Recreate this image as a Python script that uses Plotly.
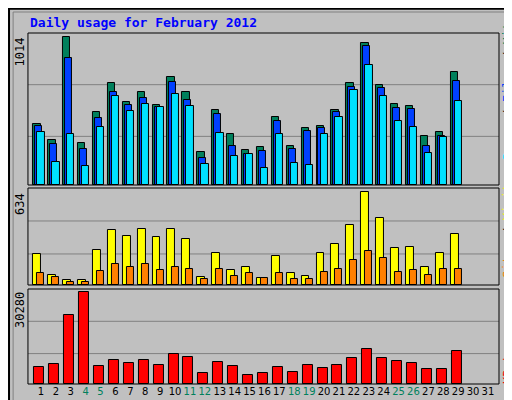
import plotly.graph_objects as go

days = list(range(1, 32))
hits = [415, 305, 1013, 291, 497, 697, 566, 635, 545, 738, 635, 229, 511, 346, 243,
        257, 463, 264, 387, 401, 511, 697, 972, 683, 552, 539, 339, 360, 772]
files = [401, 284, 869, 250, 456, 635, 545, 594, 532, 704, 580, 188, 484, 270, 215,
         236, 435, 250, 367, 387, 497, 669, 951, 662, 525, 518, 264, 339, 711]
pages = [360, 160, 346, 133, 394, 607, 504, 552, 532, 621, 539, 147, 353, 202, 215,
         119, 346, 154, 140, 346, 463, 649, 821, 607, 435, 394, 222, 332, 573]
sites = [208, 71, 37, 37, 236, 373, 332, 380, 325, 380, 311, 57, 215, 105, 126,
         50, 195, 85, 64, 215, 277, 407, 634, 455, 249, 256, 126, 215, 346]
visits = [85, 57, 23, 23, 98, 140, 126, 140, 105, 126, 112, 43, 112, 64, 85,
          50, 85, 43, 43, 92, 112, 167, 229, 181, 92, 105, 71, 112, 112]
kbytes = [5746, 6741, 22653, 30280, 6078, 8067, 7072, 8067, 6409, 10056, 9061, 3757, 7404, 6078, 3094,
          3757, 5746, 4089, 6409, 5415, 6409, 8730, 11713, 8730, 7735, 7072, 5083, 5083, 11050]
weekend = {4, 5, 11, 12, 18, 19, 25, 26}

BG = "#C0C0C0"
GREEN = "#00805C"
FONT = "DejaVu Sans Mono"
x = days[:len(hits)]

fig = go.Figure()


def bar(y, color, off, w, ax):
    fig.add_trace(go.Bar(x=x, y=y, marker=dict(color=color, line=dict(color="black", width=1)),
                         offset=off, width=w, xaxis="x", yaxis=ax, showlegend=False))


bar(hits, GREEN, -0.51, 0.49, "y")
bar(files, "#0040FF", -0.38, 0.47, "y")
bar(pages, "#00E0FF", -0.24, 0.49, "y")
bar(sites, "#FFFF00", -0.51, 0.53, "y2")
bar(visits, "#FF8000", -0.24, 0.47, "y2")
bar(kbytes, "#FF0000", -0.44, 0.67, "y3")

ticktext = [f"<span style='color:{GREEN}'>{d}</span>" if d in weekend else str(d) for d in days]
axcommon = dict(showgrid=False, zeroline=False, showticklabels=False, fixedrange=True, automargin=False)
fig.update_layout(
    width=512, height=400, margin=dict(l=0, r=0, t=0, b=0, autoexpand=False),
    paper_bgcolor=BG, plot_bgcolor=BG, barmode="overlay", bargap=0,
    font=dict(family=FONT, size=12, color="black"),
    xaxis=dict(domain=[0.039, 0.959], range=[0.13, 31.74], tickmode="array", tickvals=days,
               ticktext=ticktext, showgrid=False, zeroline=False, anchor="y3", ticklen=0,
               tickangle=0, automargin=False, fixedrange=True,
               tickfont=dict(family="DejaVu Sans", size=10)),
    yaxis=dict(domain=[0.5575, 0.9375], range=[0, 1041], **axcommon),
    yaxis2=dict(domain=[0.3075, 0.55], range=[0, 661], **axcommon),
    yaxis3=dict(domain=[0.06, 0.2975], range=[0, 31385], **axcommon),
)

shapes = [dict(type="rect", xref="paper", yref="paper", x0=0.002, x1=0.998, y0=0.002, y1=0.998,
               line=dict(color="black", width=2)),
          dict(type="rect", xref="paper", yref="paper", x0=0.01, x1=0.99, y0=0.01, y1=0.99,
               line=dict(color="#808080", width=1))]
for ax in ["y", "y2", "y3"]:
    for f in [0.32, 0.66]:
        shapes.append(dict(type="line", xref="x domain", yref=f"{ax} domain", x0=0, x1=1, y0=f, y1=f,
                           line=dict(color="#808080", width=1), layer="below"))
    shapes.append(dict(type="rect", xref="x domain", yref=f"{ax} domain", x0=0, x1=1, y0=0, y1=1,
                       line=dict(color="black", width=1)))
fig.update_layout(shapes=shapes)

ann = [dict(text="<b>Daily usage for February 2012</b>", x=20, y=385, xanchor="left",
            font=dict(color="#0000FF", size=13)),
       dict(text="1014", x=12, y=372, textangle=-90, yanchor="top"),
       dict(text="634", x=12, y=217, textangle=-90, yanchor="top"),
       dict(text="30280", x=12, y=118, textangle=-90, yanchor="top"),
       dict(text="<span style='color:#00E0FF'>Pages</span> / <span style='color:#0040FF'>Files</span>"
                 f" / <span style='color:{GREEN}'>Hits</span>", x=500, y=320, textangle=-90),
       dict(text="<span style='color:#FF8000'>Sites</span> / <span style='color:#FFFF00'>Visits</span>",
            x=500, y=180, textangle=-90),
       dict(text="<span style='color:#FF0000'>KBytes</span>", x=500, y=45, textangle=-90)]
for a in ann:
    a.setdefault("xanchor", "center")
    a.setdefault("yanchor", "middle")
    fig.add_annotation(xref="paper", yref="paper", showarrow=False,
                       **{**a, "x": a["x"] / 512, "y": a["y"] / 400})

fig.write_html("out.html")
